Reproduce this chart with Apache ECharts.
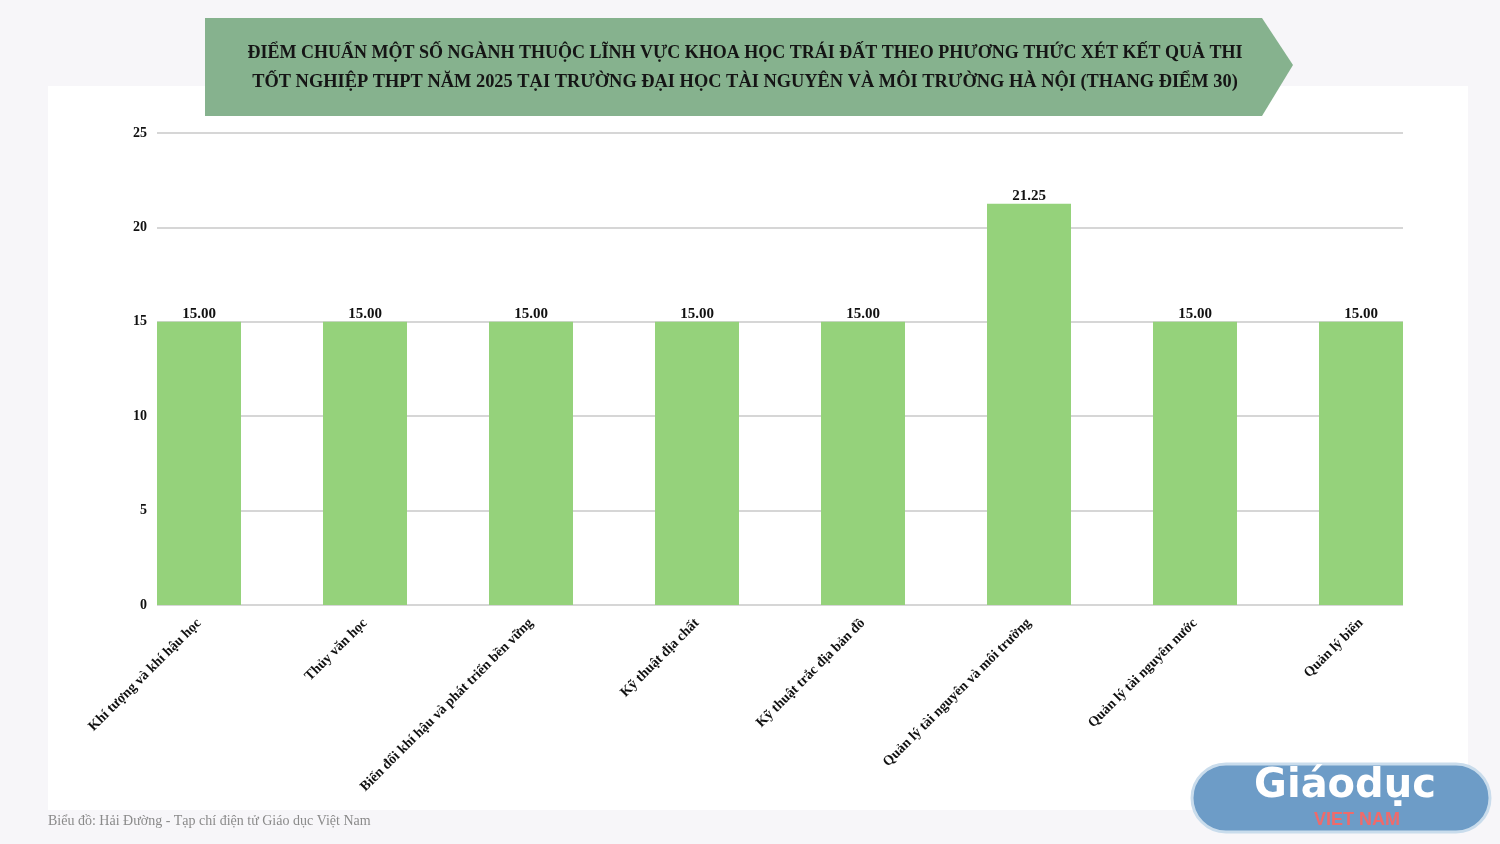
<!DOCTYPE html>
<html><head><meta charset="utf-8">
<script src="https://cdn.jsdelivr.net/npm/echarts@6/dist/echarts.min.js"></script>
<style>html,body{margin:0;padding:0;background:#f7f6f9;}#c{width:1500px;height:844px;}</style>
</head><body><div id="c"></div>
<script>
const categories = [
  "Khí tượng và khí hậu học",
  "Thủy văn học",
  "Biến đổi khí hậu và phát triển bền vững",
  "Kỹ thuật địa chất",
  "Kỹ thuật trắc địa bản đồ",
  "Quản lý tài nguyên và môi trường",
  "Quản lý tài nguyên nước",
  "Quản lý biển"
];
const scores = [15.00, 15.00, 15.00, 15.00, 15.00, 21.25, 15.00, 15.00];
const yTicks = [0, 5, 10, 15, 20, 25];
const titleLines = [
  "ĐIỂM CHUẨN MỘT SỐ NGÀNH THUỘC LĨNH VỰC KHOA HỌC TRÁI ĐẤT THEO PHƯƠNG THỨC XÉT KẾT QUẢ THI",
  "TỐT NGHIỆP THPT NĂM 2025 TẠI TRƯỜNG ĐẠI HỌC TÀI NGUYÊN VÀ MÔI TRƯỜNG HÀ NỘI (THANG ĐIỂM 30)"
];
const sourceText = "Biểu đồ: Hải Đường - Tạp chí điện tử Giáo dục Việt Nam";

const SERIF = "'Liberation Serif', 'DejaVu Serif', serif";
const chart = echarts.init(document.getElementById('c'), null, {renderer: 'canvas'});
chart.setOption({
  backgroundColor: '#f7f6f9',
  animation: false,
  graphic: [
    {type: 'rect', shape: {x: 48, y: 86, width: 1420, height: 724}, style: {fill: '#ffffff'}, z: -10, silent: true},
    {type: 'polygon', shape: {points: [[205,18],[1262,18],[1293,65],[1262,116],[205,116]]}, style: {fill: '#86b28e'}, z: 5},
    {type: 'text', x: 745, y: 53, style: {text: titleLines[0], font: "bold 18px " + SERIF, fill: '#151515', align: 'center', verticalAlign: 'middle'}, z: 6},
    {type: 'text', x: 745, y: 82, style: {text: titleLines[1], font: "bold 18.4px " + SERIF, fill: '#151515', align: 'center', verticalAlign: 'middle'}, z: 6},
    {type: 'text', x: 48, y: 821, style: {text: sourceText, font: "14px " + SERIF, fill: '#8a8a8a', align: 'left', verticalAlign: 'middle'}, z: 6},
    {type: 'rect', shape: {x: 1192, y: 764, width: 298, height: 68, r: 34}, style: {fill: '#6d9cc7', stroke: '#c9dcec', lineWidth: 3}, z: 6},
    {type: 'text', x: 1345, y: 787, style: {text: 'Giáodục', font: "bold 40px 'DejaVu Sans', sans-serif", fill: '#ffffff', align: 'center', verticalAlign: 'middle'}, z: 7},
    {type: 'text', x: 1357, y: 820, style: {text: 'VIET NAM', font: "bold 18px 'Liberation Sans', sans-serif", fill: '#f06a6a', align: 'center', verticalAlign: 'middle'}, z: 8}
  ],
  grid: [
    {left: 116, right: 56, top: 133, bottom: 239},
    {left: 157, right: 97, top: 133, bottom: 239}
  ],
  xAxis: [
    {type: 'category', gridIndex: 0, data: categories, boundaryGap: true,
     axisLine: {show: false}, axisTick: {show: false},
     axisLabel: {interval: 0, rotate: 45, margin: 16, fontFamily: SERIF, fontWeight: 'bold', fontSize: 14, color: '#111'}},
    {type: 'value', gridIndex: 1, show: false}
  ],
  yAxis: [
    {type: 'value', gridIndex: 0, min: 0, max: 25, interval: 5, show: false, splitLine: {show: false}},
    {type: 'value', gridIndex: 1, min: 0, max: 25, interval: 5,
     axisLine: {show: false}, axisTick: {show: false},
     axisLabel: {margin: 10, fontFamily: SERIF, fontWeight: 'bold', fontSize: 14, color: '#111',
       formatter: v => yTicks.includes(v) ? String(v) : ''},
     splitLine: {show: true, lineStyle: {color: '#c8c8c8', width: 1.5}}}
  ],
  series: [{
    type: 'bar', xAxisIndex: 0, yAxisIndex: 0, data: scores, barWidth: 84,
    itemStyle: {color: '#95d27b'},
    label: {show: true, position: 'top', distance: 0, formatter: p => p.value.toFixed(2),
      fontFamily: SERIF, fontWeight: 'bold', fontSize: 15, color: '#111'}
  }]
});
</script></body></html>
